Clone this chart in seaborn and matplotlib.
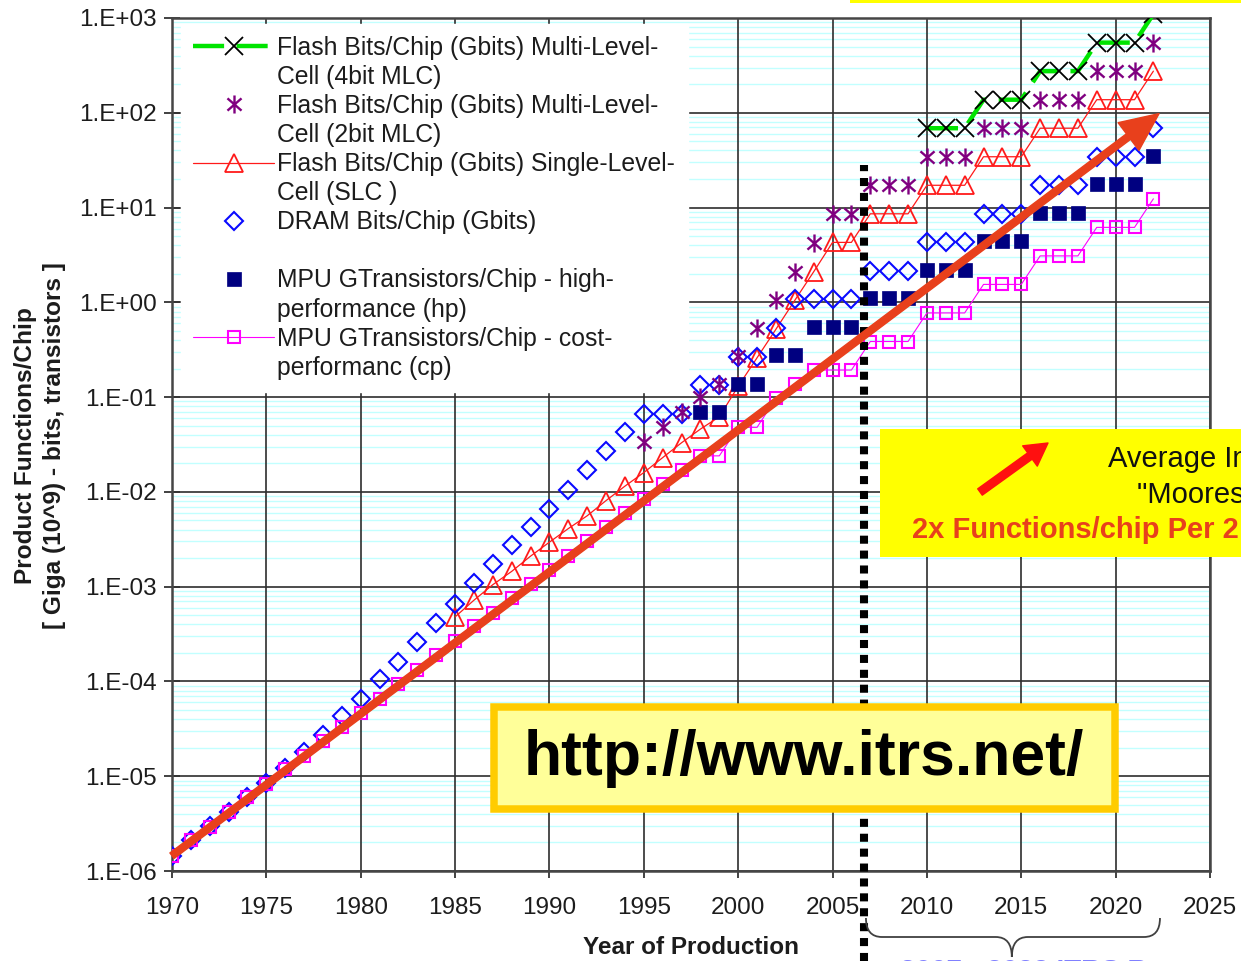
import numpy as np
import matplotlib
matplotlib.use("Agg")
import matplotlib.pyplot as plt
from matplotlib import font_manager
from matplotlib.lines import Line2D
from matplotlib.path import Path
from matplotlib.patches import Rectangle, FancyArrowPatch, PathPatch
from matplotlib.ticker import LogLocator, FuncFormatter, NullFormatter
from matplotlib.transforms import blended_transform_factory
import seaborn as sns

# ---------------------------------------------------------------- data
flash_4bit_years = list(range(2010, 2023))
flash_4bit = [68.72, 68.72, 68.72, 137.4, 137.4, 137.4, 274.9, 274.9, 274.9,
              549.8, 549.8, 549.8, 1099.5]

flash_2bit_years = list(range(1995, 2023))
flash_2bit = [0.034, 0.048, 0.069, 0.10, 0.137,
              0.27, 0.54, 1.07, 2.1, 4.2, 8.59, 8.59, 17.18, 17.18, 17.18,
              34.36, 34.36, 34.36, 68.72, 68.72, 68.72, 137.4, 137.4, 137.4,
              274.9, 274.9, 274.9, 549.8]

flash_slc_years = list(range(1985, 2023))
flash_slc = [4.8e-4, 7.2e-4, 1.05e-3, 1.45e-3, 2.1e-3,
             2.95e-3, 4.1e-3, 5.6e-3, 8.1e-3, 1.15e-2, 1.6e-2, 2.3e-2, 3.3e-2, 4.6e-2, 6.2e-2,
             0.13, 0.26, 0.52, 1.05, 2.1, 4.29, 4.29, 8.59, 8.59, 8.59,
             17.18, 17.18, 17.18, 34.36, 34.36, 34.36, 68.72, 68.72, 68.72,
             137.4, 137.4, 137.4, 274.9]

dram_years = list(range(1970, 2023))
dram = [1.45e-6, 2.1e-6, 2.95e-6, 4.2e-6, 6.0e-6, 8.5e-6, 1.23e-5, 1.8e-5, 2.75e-5, 4.3e-5,
        6.6e-5, 1.05e-4, 1.6e-4, 2.6e-4, 4.1e-4, 6.6e-4, 1.1e-3, 1.74e-3, 2.75e-3, 4.3e-3,
        6.6e-3, 1.05e-2, 1.7e-2, 2.7e-2, 4.3e-2, 0.067, 0.067, 0.067, 0.134, 0.134,
        0.268, 0.268, 0.537, 1.074, 1.074, 1.074, 1.074, 2.15, 2.15, 2.15,
        4.29, 4.29, 4.29, 8.59, 8.59, 8.59, 17.18, 17.18, 17.18, 34.36, 34.36, 34.36, 68.72]

mpu_hp_years = list(range(1998, 2023))
mpu_hp = [0.069, 0.069, 0.138, 0.138, 0.276, 0.276, 0.553, 0.553, 0.553, 1.106, 1.106, 1.106,
          2.212, 2.212, 2.212, 4.424, 4.424, 4.424, 8.848, 8.848, 8.848, 17.7, 17.7, 17.7, 35.4]

mpu_cp_years = list(range(1970, 2023))
mpu_cp = [1.45e-6, 2.1e-6, 2.9e-6, 4.2e-6, 6.0e-6, 8.3e-6, 1.2e-5, 1.65e-5, 2.35e-5, 3.3e-5,
          4.7e-5, 6.6e-5, 9.3e-5, 1.32e-4, 1.9e-4, 2.65e-4, 3.8e-4, 5.3e-4, 7.6e-4, 1.07e-3,
          1.5e-3, 2.1e-3, 3.0e-3, 4.3e-3, 6.0e-3, 8.5e-3, 1.2e-2, 1.7e-2, 2.4e-2, 2.4e-2,
          4.8e-2, 4.8e-2, 0.097, 0.138, 0.193, 0.193, 0.193, 0.386, 0.386, 0.386,
          0.773, 0.773, 0.773, 1.546, 1.546, 1.546, 3.09, 3.09, 3.09, 6.18, 6.18, 6.18, 12.37]

# "Moore's law" trend: 2x functions per chip every 2 years
trend_years = [1970.0, 2022.3]
trend_values = [1.45e-6, 98.0]

itrs_start_year = 2006.67

legend_labels = [
    "Flash Bits/Chip (Gbits) Multi-Level-", "Cell (4bit MLC)",
    "Flash Bits/Chip (Gbits) Multi-Level-", "Cell (2bit MLC)",
    "Flash Bits/Chip (Gbits) Single-Level-", "Cell (SLC )",
    "DRAM Bits/Chip (Gbits)", " ",
    "MPU GTransistors/Chip - high-", "performance (hp)",
    "MPU GTransistors/Chip - cost-", "performanc (cp)",
]
year_ticks = list(range(1970, 2030, 5))

# ---------------------------------------------------------------- style
sns.set_style("white")
installed = {f.name for f in font_manager.fontManager.ttflist}
HAS_NARROW = "Liberation Sans Narrow" in installed
REGULAR = ["Liberation Sans", "DejaVu Sans"]
NARROW = ["Liberation Sans Narrow", "Liberation Sans", "DejaVu Sans"] if HAS_NARROW else REGULAR
plt.rcParams["font.family"] = REGULAR

tick_size = 20.5 if HAS_NARROW else 17.5
ylabel_size = 21.5 if HAS_NARROW else 17.6
xlabel_size = 21.0 if HAS_NARROW else 17.5

W, H = 1241, 961
fig = plt.figure(figsize=(W / 100, H / 100), dpi=100, facecolor="white")
ax = fig.add_axes([172 / W, 1 - 871 / H, (1210 - 172) / W, (871 - 18) / H])


def fx(px):
    return px / W


def fy(py):
    return 1 - py / H


ax.set_yscale("log")
ax.set_xlim(1970, 2025)
ax.set_ylim(1e-6, 1e3)

# six-armed asterisk marker (vertical stroke plus an X)
asterisk = Path(
    [(0, -1), (0, 1), (-0.78, -0.68), (0.78, 0.68), (-0.78, 0.68), (0.78, -0.68)],
    [Path.MOVETO, Path.LINETO] * 3,
)

GREEN = "#00E400"
PURPLE = "#800080"
RED = "#FF1A1A"
BLUE = "#0A0AFF"
NAVY = "#000080"
MAGENTA = "#FF00FF"

styles = {
    "slc": dict(color=RED, linewidth=0.9, marker="^", markersize=12.5, markerfacecolor="none",
                markeredgecolor=RED, markeredgewidth=1.3),
    "dram": dict(color=BLUE, linestyle="none", marker="D", markersize=8.7, markerfacecolor="none",
                 markeredgecolor=BLUE, markeredgewidth=1.5),
    "hp": dict(color=NAVY, linestyle="none", marker="s", markersize=9.6, markerfacecolor=NAVY,
               markeredgecolor=NAVY, markeredgewidth=0.5),
    "mlc2": dict(color=PURPLE, linestyle="none", marker=asterisk, markersize=13,
                 markerfacecolor="none", markeredgecolor=PURPLE, markeredgewidth=1.7),
    "cp": dict(color=MAGENTA, linewidth=0.8, marker="s", markersize=8.7, markerfacecolor="none",
               markeredgecolor=MAGENTA, markeredgewidth=1.5),
    "mlc4": dict(color=GREEN, linewidth=3.2, linestyle=(0, (7, 2.8)), marker="x", markersize=13,
                 markeredgecolor="black", markeredgewidth=1.3),
}

series = [
    ("slc", flash_slc_years, flash_slc),
    ("dram", dram_years, dram),
    ("hp", mpu_hp_years, mpu_hp),
    ("mlc2", flash_2bit_years, flash_2bit),
    ("cp", mpu_cp_years, mpu_cp),
    ("mlc4", flash_4bit_years, flash_4bit),
]
for z, (key, xs, ys) in enumerate(series):
    sns.lineplot(x=xs, y=ys, ax=ax, estimator=None, sort=False, legend=False,
                 zorder=3 + 0.01 * z, **styles[key])

# ---------------------------------------------------------------- axes
ax.set_xticks(year_ticks)
ax.yaxis.set_major_locator(LogLocator(base=10, numticks=20))
ax.yaxis.set_minor_locator(LogLocator(base=10, subs=np.arange(2, 10), numticks=20))
ax.yaxis.set_minor_formatter(NullFormatter())
ax.yaxis.set_major_formatter(FuncFormatter(lambda v, pos: f"1.E{int(round(np.log10(v))):+03d}"))

ax.grid(which="major", axis="both", color="#2e2e2e", linewidth=1.2)
ax.grid(which="minor", axis="y", color="#c2ffff", linewidth=1.0)
ax.set_axisbelow(True)
# keep the cyan minor lines underneath the black year gridlines
ax.yaxis.set_zorder(0.4)
ax.xaxis.set_zorder(0.6)

for side in ("left", "right", "top", "bottom"):
    ax.spines[side].set_color("#454545")
    ax.spines[side].set_linewidth(1.8)

ax.tick_params(axis="y", which="major", left=True, direction="inout", length=12, width=1.3,
               color="#333333", pad=5, labelsize=tick_size, labelcolor="#1c1c1c")
ax.tick_params(axis="x", which="major", bottom=True, direction="out", length=5, width=1.3,
               color="#333333", pad=14, labelsize=tick_size, labelcolor="#1c1c1c")
ax.tick_params(which="minor", length=0)
for lab in ax.get_xticklabels() + ax.get_yticklabels():
    lab.set_family(NARROW)

fig.text(fx(40), fy(446), "Product Functions/Chip\n[ Giga (10^9) - bits, transistors ]",
         rotation=90, ha="center", va="center", multialignment="center",
         fontsize=ylabel_size, fontweight="bold", family=NARROW, color="#1c1c1c",
         linespacing=1.3)
fig.text(fx(691), fy(948), "Year of Production", ha="center", va="center",
         fontsize=xlabel_size, fontweight="bold", family=NARROW, color="#1c1c1c")

# ---------------------------------------------------------------- legend
blank = Line2D([], [], linestyle="none")
handles = [
    Line2D([], [], **styles["mlc4"]), blank,
    Line2D([], [], **styles["mlc2"]), blank,
    Line2D([], [], **styles["slc"]), blank,
    Line2D([], [], **styles["dram"]), blank,
    Line2D([], [], **styles["hp"]), blank,
    Line2D([], [], **styles["cp"]), blank,
]
leg = ax.legend(handles, legend_labels, loc="upper left", bbox_to_anchor=(0.0087, 0.9935),
                borderaxespad=0, frameon=True, facecolor="white", edgecolor="white",
                framealpha=1, fancybox=False, borderpad=0.5, labelspacing=0.205,
                handlelength=3.25, handletextpad=0.15,
                prop=dict(family=REGULAR, size=17.8))
for t in leg.get_texts():
    t.set_color("#1c1c1c")
leg.set_zorder(6)

# ---------------------------------------------------------------- ITRS boundary and trend
ax.plot([itrs_start_year, itrs_start_year], [-0.105, 0.828], transform=ax.get_xaxis_transform(),
        color="black", linewidth=5.8, linestyle=(0, (1.0, 0.85)), dash_capstyle="butt",
        clip_on=False, zorder=4)

trend = FancyArrowPatch((trend_years[0], trend_values[0]), (trend_years[1], trend_values[1]),
                        transform=ax.transData,
                        arrowstyle="simple,head_width=1.0,head_length=1.1,tail_width=0.2",
                        mutation_scale=25, color="#E8401C", shrinkA=0, shrinkB=0,
                        zorder=7, clip_on=False)
ax.add_patch(trend)

# brace under the ITRS years
xy_blend = blended_transform_factory(ax.transData, fig.transFigure)
x0, xc, x1, r = 2006.77, 2014.5, 2022.35, 0.85
yt, ym, yb = fy(918), fy(937), fy(957)
brace = Path(
    [(x0, yt), (x0, ym), (x0 + r, ym), (xc - r, ym), (xc, ym), (xc, yb),
     (x1, yt), (x1, ym), (x1 - r, ym), (xc + r, ym), (xc, ym), (xc, yb)],
    [Path.MOVETO, Path.CURVE3, Path.CURVE3, Path.LINETO, Path.CURVE3, Path.CURVE3,
     Path.MOVETO, Path.CURVE3, Path.CURVE3, Path.LINETO, Path.CURVE3, Path.CURVE3],
)
fig.add_artist(PathPatch(brace, transform=xy_blend, fill=False, edgecolor="#404040",
                         linewidth=1.3, clip_on=False))
fig.text(fx(1056), fy(959), "2007 - 2022 ITRS Range", ha="center", va="top",
         fontsize=20, fontweight="bold", color="#8080FF")

# ---------------------------------------------------------------- call-out boxes
fig.add_artist(Rectangle((fx(850), fy(3)), fx(400), 3 / H, facecolor="#FFFF00",
                         edgecolor="none"))

fig.add_artist(Rectangle((fx(880), fy(557)), fx(400), (557 - 429) / H, facecolor="#FFFF00",
                         edgecolor="none"))
fig.add_artist(FancyArrowPatch((fx(980), fy(492)), (fx(1048), fy(443)), transform=fig.transFigure,
                               arrowstyle="simple,head_width=0.9,head_length=0.8,tail_width=0.28",
                               mutation_scale=20, color="#FF1010", shrinkA=0, shrinkB=0))
fig.text(fx(1108), fy(467), "Average Industry", ha="left", va="baseline", fontsize=21,
         color="#111111")
fig.text(fx(1137), fy(503), "\"Moores Law\"", ha="left", va="baseline", fontsize=21,
         color="#111111")
fig.text(fx(912), fy(538), "2x Functions/chip Per 2 Years", ha="left", va="baseline",
         fontsize=21, fontweight="bold", color="#E8401C")

fig.add_artist(Rectangle((fx(494), fy(809)), fx(1115 - 494), (809 - 707) / H,
                         facecolor="#FFFF99", edgecolor="#FFCC00", linewidth=5.4))
fig.text(fx(804), fy(758), "http://www.itrs.net/", ha="center", va="center",
         fontsize=45, fontweight="bold", color="black")

fig.savefig("out.png", dpi=100, facecolor="white")
